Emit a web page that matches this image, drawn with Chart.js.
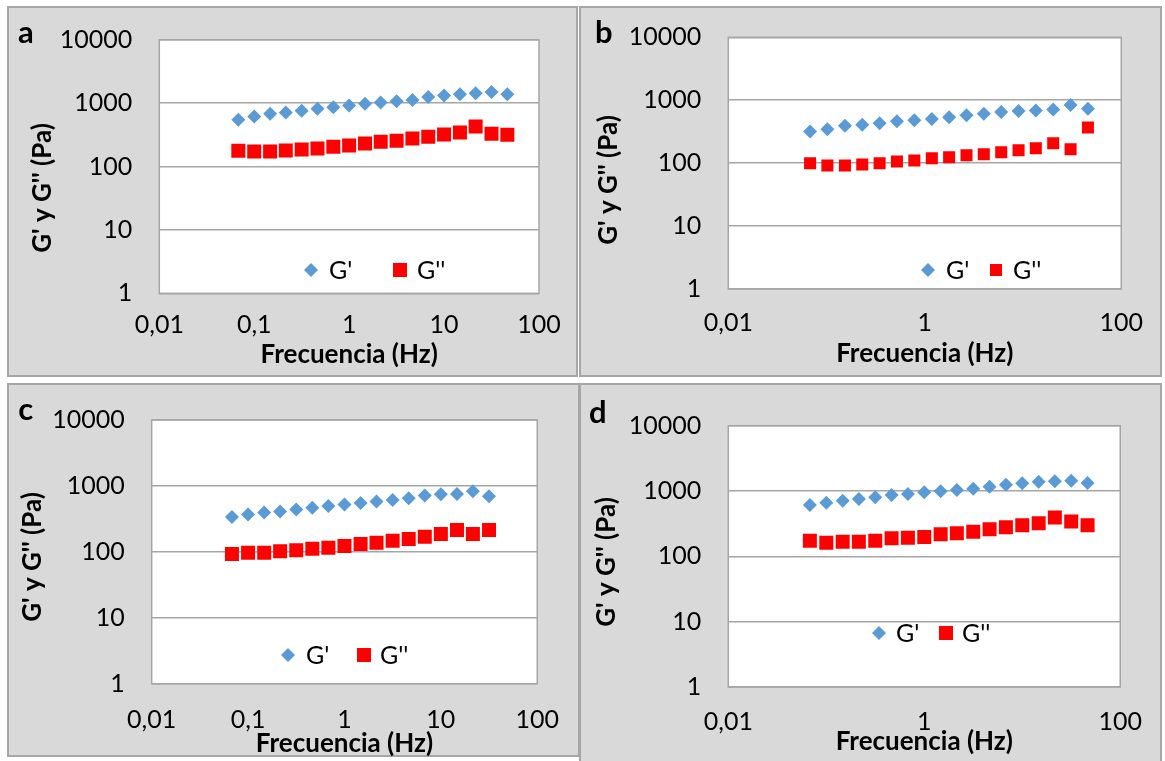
<!DOCTYPE html>
<html><head><meta charset="utf-8">
<script src="https://cdn.jsdelivr.net/npm/chart.js@4.4.1/dist/chart.umd.min.js"></script>
<style>
html,body{margin:0;padding:0;background:#fff;width:1165px;height:761px;overflow:hidden;position:relative;}
.panel{position:absolute;background:#d9d9d9;border:2px solid #a6a6a6;box-sizing:border-box;}
canvas{position:absolute;}
</style></head><body>
<script>
// ---- data ----
const freqA = [0.068, 0.1, 0.147, 0.215, 0.316, 0.464, 0.681, 1, 1.47, 2.15, 3.16, 4.64, 6.81, 10, 14.7, 21.5, 31.6, 46.4];
const freqB = [0.068, 0.102, 0.154, 0.231, 0.347, 0.521, 0.783, 1.18, 1.77, 2.66, 3.99, 6.0, 9.01, 13.5, 20.3, 30.5, 45.8];
const freqC = [0.068, 0.1, 0.147, 0.215, 0.316, 0.464, 0.681, 1, 1.47, 2.15, 3.16, 4.64, 6.81, 10, 14.7, 21.5, 31.6];
const freqD = [0.068, 0.1, 0.147, 0.215, 0.316, 0.464, 0.681, 1, 1.47, 2.15, 3.16, 4.64, 6.81, 10, 14.7, 21.5, 31.6, 46.4];

const aGp  = [546, 615, 679, 711, 756, 813, 865, 917, 975, 1022, 1075, 1127, 1257, 1318, 1386, 1437, 1507, 1386];
const aGpp = [177, 173, 173, 179, 186, 193, 205, 215, 231, 246, 255, 277, 294, 320, 344, 428, 328, 317];
const bGp  = [318, 347, 393, 408, 429, 462, 480, 504, 537, 578, 608, 647, 672, 689, 715, 840, 733];
const bGpp = [100, 92, 92, 95, 100, 106, 110, 120, 124, 133, 138, 149, 160, 173, 208, 167, 370];
const cGp  = [339, 369, 395, 409, 439, 465, 498, 522, 552, 580, 614, 651, 716, 749, 756, 831, 698];
const cGpp = [93, 97, 97, 102, 106, 111, 115, 123, 132, 137, 147, 157, 169, 187, 215, 187, 215];
const dGp  = [611, 663, 711, 755, 800, 869, 900, 954, 988, 1036, 1086, 1165, 1250, 1310, 1389, 1406, 1439, 1326];
const dGpp = [174, 162, 168, 168, 174, 189, 193, 198, 217, 225, 239, 259, 278, 298, 320, 395, 343, 298];

const xTicksFull = [0.01, 0.1, 1, 10, 100];
const xLabelsFull = ['0,01', '0,1', '1', '10', '100'];
const xTicksSparse = [0.01, 1, 100];
const xLabelsSparse = ['0,01', '1', '100'];
const yTicks = [1, 10, 100, 1000, 10000];
const yLabels = ['1', '10', '100', '1000', '10000'];
const seriesLabels = ["G'", "G''"];
const xTitleText = 'Frecuencia (Hz)';
const yTitleText = "G' y G'' (Pa)";
const panelLetters = ['a', 'b', 'c', 'd'];

// ---- layout / style (page coordinates) ----
const FONT = 'Lato, "Open Sans", "DejaVu Sans", sans-serif';
const TICK_SIZE = 25, TITLE_SIZE = 26, LEG_SIZE = 25;
const MARGIN_TOP = 40;
const panels = [
  {letter: panelLetters[0], fx: freqA, gp: aGp, gpp: aGpp, xt: xTicksFull, xl: xLabelsFull,
   box: [7, 6, 578, 377], area: [159.3, 39.8, 539, 293.3], xlab: 325, xtitle: 355, ytitle: [42.5, 188], letterPos: [18, 42.7],
   legY: 270, leg: [[311, 329], [400, 417]], sq: 9.9},
  {letter: panelLetters[1], fx: freqB, gp: bGp, gpp: bGpp, xt: xTicksSparse, xl: xLabelsSparse,
   box: [579, 6, 1162, 377], area: [728.3, 37.3, 1131, 289], xlab: 323, xtitle: 353.7, ytitle: [609, 180], letterPos: [595, 42.7],
   legY: 270, leg: [[928, 946], [996, 1013]], sq: 8.5},
  {letter: panelLetters[2], fx: freqC, gp: cGp, gpp: cGpp, xt: xTicksFull, xl: xLabelsFull,
   box: [7, 383, 580, 757], area: [151.7, 420, 542, 683.7], xlab: 719.7, xtitle: 744, ytitle: [32.5, 557], letterPos: [18.3, 420],
   legY: 655, leg: [[288, 306], [364, 380]], sq: 9.9},
  {letter: panelLetters[3], fx: freqD, gp: dGp, gpp: dGpp, xt: xTicksSparse, xl: xLabelsSparse,
   box: [579, 383, 1162, 763], area: [728.3, 425.7, 1125, 687], xlab: 722, xtitle: 741.5, ytitle: [607, 562], letterPos: [589, 422.7],
   legY: 633, leg: [[879, 896], [946, 962]], sq: 9.9}
];

function drawMarker(ctx, style, r, x, y, color) {
  ctx.save();
  ctx.fillStyle = color;
  ctx.beginPath();
  if (style === 'rectRot') {
    ctx.moveTo(x - r, y); ctx.lineTo(x, y - r); ctx.lineTo(x + r, y); ctx.lineTo(x, y + r); ctx.closePath();
  } else {
    const s = Math.SQRT1_2 * r;
    ctx.rect(x - s, y - s, 2 * s, 2 * s);
  }
  ctx.fill();
  ctx.restore();
}

panels.forEach(p => {
  const bx = p.box[0], by = p.box[1];
  const BW = p.box[2] - p.box[0], BH = p.box[3] - p.box[1];

  const div = document.createElement('div');
  div.className = 'panel';
  Object.assign(div.style, {left: bx + 'px', top: by + 'px', width: BW + 'px', height: BH + 'px'});
  document.body.appendChild(div);

  // canvas extends above the panel so the top padding never limits the plot area
  const ox = bx, oy = by - MARGIN_TOP;
  const W = BW, H = BH + MARGIN_TOP;
  const L = p.area[0] - ox, T = p.area[1] - oy, R = p.area[2] - ox, B = p.area[3] - oy;

  const canvas = document.createElement('canvas');
  Object.assign(canvas.style, {left: ox + 'px', top: oy + 'px', width: W + 'px', height: H + 'px'});
  canvas.width = W; canvas.height = H;
  document.body.appendChild(canvas);

  const lhTick = TICK_SIZE * 1.2, lhTitle = TITLE_SIZE * 1.2;
  const xLabPad = (p.xlab - p.area[3]) - lhTick / 2;
  const xTitlePad = (p.box[3] - p.xtitle) - lhTitle / 2;

  const decor = {
    id: 'decor',
    beforeDraw(chart) {
      const {ctx, chartArea: a} = chart;
      ctx.save();
      ctx.fillStyle = '#ffffff';
      ctx.fillRect(a.left, a.top, a.right - a.left, a.bottom - a.top);
      ctx.strokeStyle = '#a6a6a6';
      ctx.lineWidth = 1.5;
      ctx.strokeRect(a.left, a.top, a.right - a.left, a.bottom - a.top);
      ctx.restore();
    },
    afterDraw(chart) {
      const ctx = chart.ctx;
      ctx.save();
      ctx.fillStyle = '#000';
      ctx.font = 'bold 31px ' + FONT;
      ctx.textAlign = 'left'; ctx.textBaseline = 'alphabetic';
      ctx.fillText(p.letter, p.letterPos[0] - ox, p.letterPos[1] - oy);
      ctx.save();
      ctx.translate(p.ytitle[0] - ox, p.ytitle[1] - oy);
      ctx.rotate(-Math.PI / 2);
      ctx.font = 'bold ' + TITLE_SIZE + 'px ' + FONT;
      ctx.textAlign = 'center'; ctx.textBaseline = 'middle';
      ctx.fillText(yTitleText, 0, 0);
      ctx.restore();
      ctx.font = LEG_SIZE + 'px ' + FONT;
      ctx.textAlign = 'left'; ctx.textBaseline = 'middle';
      chart.data.datasets.forEach((ds, i) => {
        const [mx, tx] = p.leg[i];
        drawMarker(ctx, ds.pointStyle, ds.pointRadius, mx - ox, p.legY - oy, ds.backgroundColor);
        ctx.fillStyle = '#000';
        ctx.fillText(ds.label, tx - ox, p.legY - oy + 1);
      });
      ctx.restore();
    }
  };

  new Chart(canvas, {
    type: 'scatter',
    data: {
      datasets: [
        {label: seriesLabels[0], data: p.fx.map((f, i) => ({x: f, y: p.gp[i]})),
         pointStyle: 'rectRot', pointRadius: 7, backgroundColor: '#5b9bd5', borderWidth: 0, showLine: false},
        {label: seriesLabels[1], data: p.fx.map((f, i) => ({x: f, y: p.gpp[i]})),
         pointStyle: 'rect', pointRadius: p.sq, backgroundColor: '#ff0000', borderWidth: 0, showLine: false}
      ]
    },
    options: {
      responsive: false, animation: false, devicePixelRatio: 1,
      layout: {padding: {left: 0, top: T, right: W - R, bottom: 0}},
      plugins: {legend: {display: false}, tooltip: {enabled: false}},
      elements: {point: {hoverRadius: 0}},
      scales: {
        x: {
          type: 'logarithmic', min: 0.01, max: 100,
          afterBuildTicks: s => { s.ticks = p.xt.map(v => ({value: v})); },
          afterFit: s => { s.height = H - B; },
          grid: {display: false, drawTicks: false},
          border: {display: false},
          ticks: {autoSkip: false, maxRotation: 0, padding: xLabPad, color: '#000',
                  font: {family: FONT, size: TICK_SIZE}, callback: (v, i) => p.xl[i]},
          title: {display: true, text: xTitleText, color: '#000',
                  font: {family: FONT, size: TITLE_SIZE, weight: 'bold'}, padding: {top: 0, bottom: xTitlePad}}
        },
        y: {
          type: 'logarithmic', min: 1, max: 10000,
          afterBuildTicks: s => { s.ticks = yTicks.map(v => ({value: v})); },
          afterFit: s => { s.width = L; },
          grid: {color: '#a6a6a6', lineWidth: 1.5, drawTicks: false},
          border: {display: false},
          ticks: {padding: 27, color: '#000', font: {family: FONT, size: TICK_SIZE}, callback: (v, i) => yLabels[i]}
        }
      }
    },
    plugins: [decor]
  });
});
</script>
</body></html>
